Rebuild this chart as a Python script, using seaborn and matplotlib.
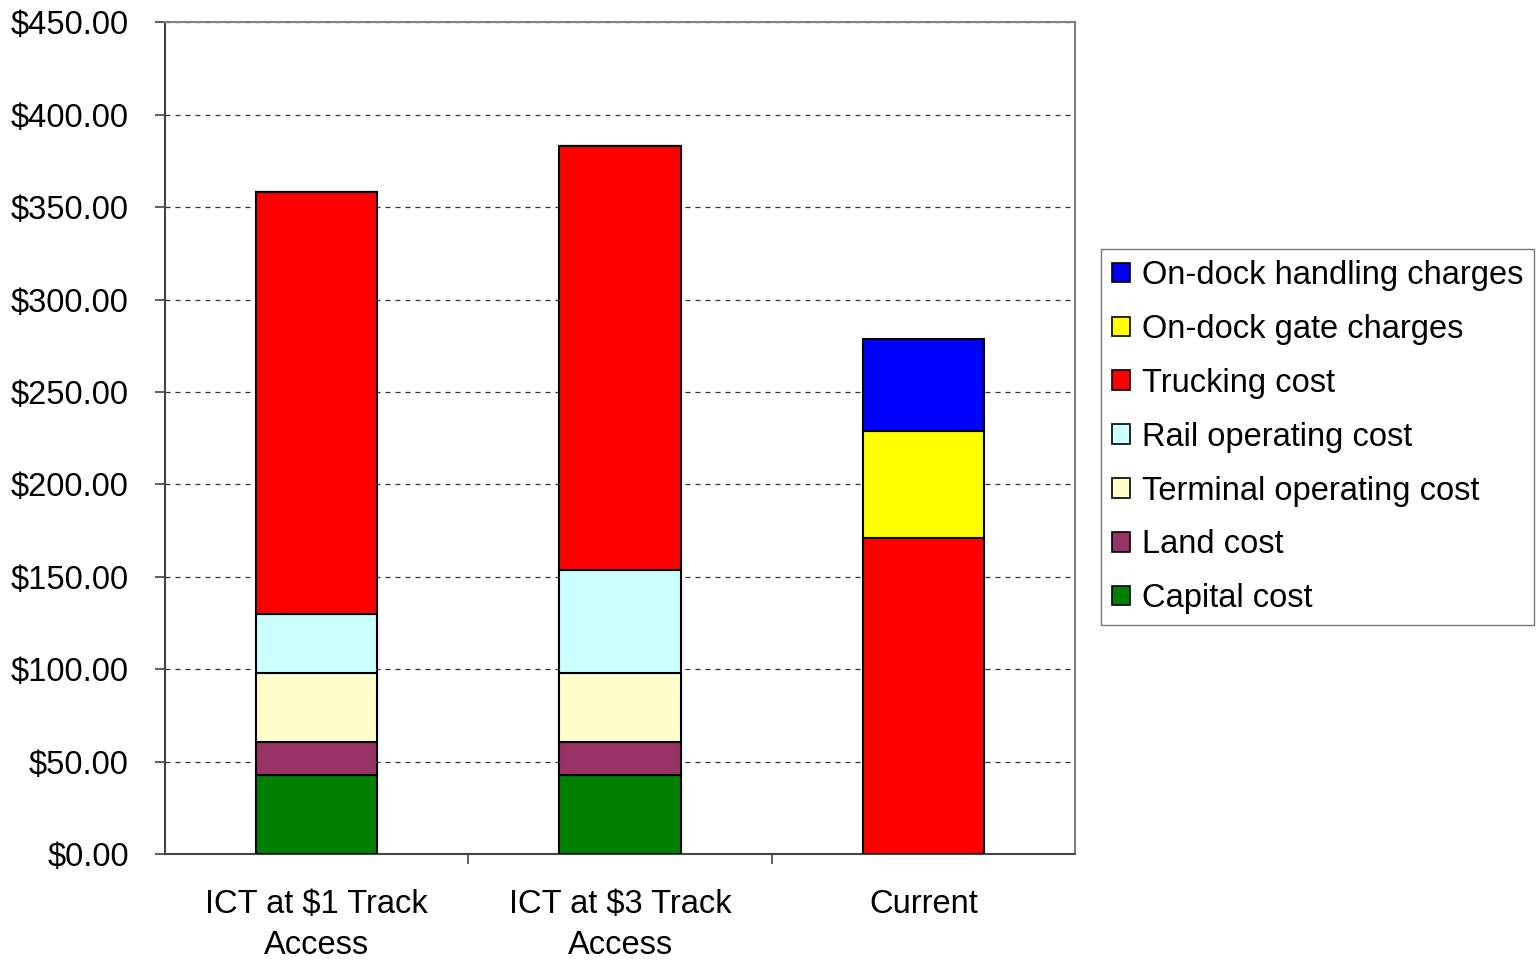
import numpy as np
import pandas as pd
import matplotlib
matplotlib.use('Agg')
import matplotlib.pyplot as plt
import seaborn as sns
from matplotlib.patches import Patch
from matplotlib.ticker import FuncFormatter, MultipleLocator

categories = ['ICT at $1 Track\nAccess', 'ICT at $3 Track\nAccess', 'Current']
components = ['Capital cost', 'Land cost', 'Terminal operating cost', 'Rail operating cost',
              'Trucking cost', 'On-dock gate charges', 'On-dock handling charges']
capital = [42.7, 42.7, 0]
land = [18.0, 18.0, 0]
terminal = [37.4, 37.4, 0]
rail = [32.1, 55.5, 0]
trucking = [227.8, 229.3, 170.9]
gate = [0, 0, 57.9]
handling = [0, 0, 49.7]
colors = ['#008000', '#993366', '#FFFFCC', '#CCFFFF', '#FF0000', '#FFFF00', '#0000FF']

sns.set_style('white')
plt.rcParams['font.family'] = ['Liberation Sans', 'DejaVu Sans']
plt.rcParams['text.color'] = 'black'

fig = plt.figure(figsize=(15.38, 9.6), dpi=100)
ax = fig.add_axes([0.1073, 0.110, 0.5917, 0.867])

series = [capital, land, terminal, rail, trucking, gate, handling]
bottom = np.zeros(len(categories))
for vals, col in zip(series, colors):
    df = pd.DataFrame({'cat': categories, 'val': vals})
    sns.barplot(data=df, x='cat', y='val', color=col, bottom=bottom, width=0.4,
                edgecolor='black', linewidth=1.5, ax=ax, saturation=1, zorder=3)
    bottom = bottom + np.array(vals)

ax.set_xlim(-0.5, 2.5)
ax.set_ylim(0, 450)
ax.yaxis.set_major_locator(MultipleLocator(50))
ax.yaxis.set_major_formatter(FuncFormatter(lambda v, p: f'${v:.2f}'))
ax.grid(axis='y', color='#333333', linestyle=(0, (4, 4)), linewidth=0.9, zorder=0)
ax.set_axisbelow(True)
ax.set_xlabel('')
ax.set_ylabel('')

ax.set_xticks([0.5, 1.5], minor=False)
ax.set_xticklabels([])
ax.set_xticks([0, 1, 2], minor=True)
ax.set_xticklabels(categories, minor=True, fontsize=23.5, linespacing=1.42, color='black')
ax.tick_params(axis='x', which='minor', length=0, pad=25)
ax.tick_params(axis='x', which='major', length=7, color='#444444', width=1.2, direction='out')
ax.tick_params(axis='y', labelsize=23.5, labelcolor='black', length=7, color='#444444',
               width=1.2, direction='out', pad=19)
ax.tick_params(axis='both', bottom=True, left=True)

for s in ['top', 'right']:
    ax.spines[s].set_color('#808080')
    ax.spines[s].set_linewidth(1.5)
for s in ['left', 'bottom']:
    ax.spines[s].set_color('#444444')
    ax.spines[s].set_linewidth(1.5)

handles = [Patch(facecolor=c, edgecolor='black', linewidth=1.2, label=l)
           for c, l in zip(colors[::-1], components[::-1])]
leg = fig.legend(handles=handles, loc='upper left', bbox_to_anchor=(0.7159, 0.7406),
                 fontsize=23.5, frameon=True, fancybox=False, edgecolor='#555555',
                 handlelength=0.55, handleheight=0.55, handletextpad=0.36,
                 labelspacing=0.7, borderpad=0.34, borderaxespad=0)
leg.get_frame().set_linewidth(1.0)

fig.savefig('out.png', dpi=100)
